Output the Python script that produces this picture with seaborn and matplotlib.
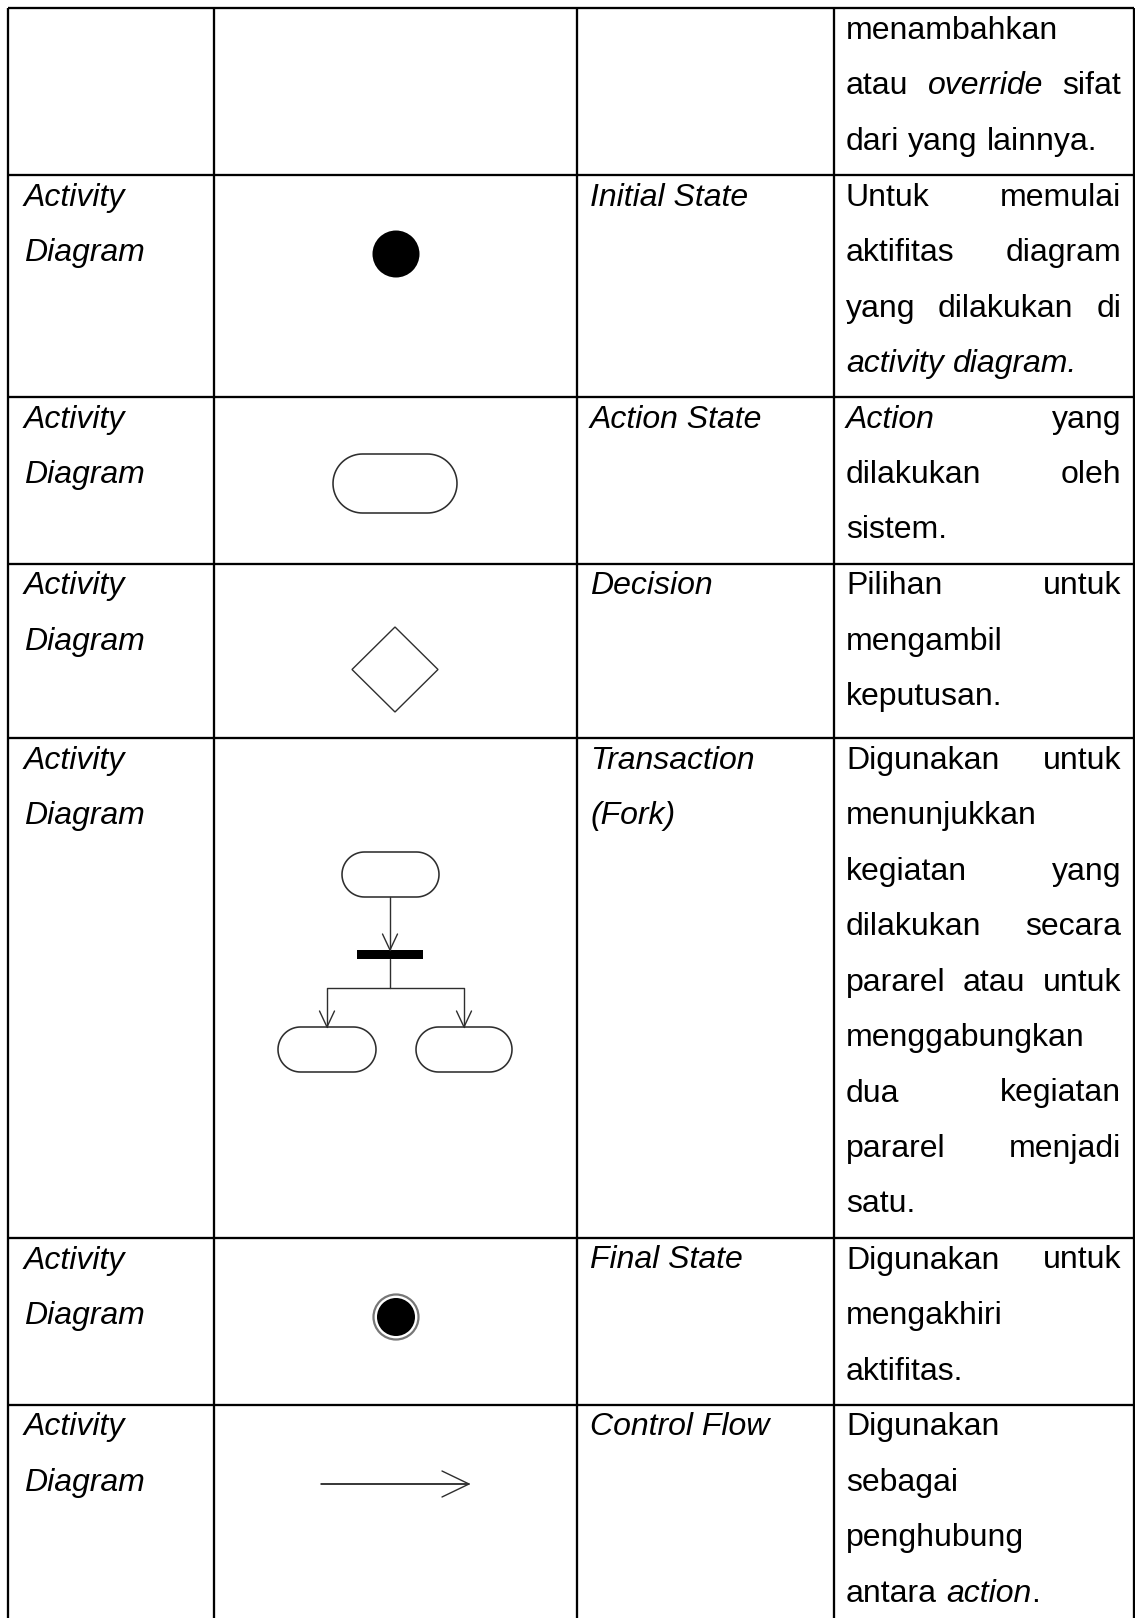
import matplotlib
matplotlib.use("Agg")
import numpy as np
import matplotlib.pyplot as plt
from matplotlib.patches import Circle, Polygon, Rectangle
import seaborn as sns

sns.set_theme(style="white")
plt.rcParams["font.family"] = ["Liberation Sans", "DejaVu Sans"]
plt.rcParams["text.color"] = "black"

# ---- table content ----
diagram_col = [[], ["Activity", "Diagram"], ["Activity", "Diagram"], ["Activity", "Diagram"],
               ["Activity", "Diagram"], ["Activity", "Diagram"], ["Activity", "Diagram"]]
symbol_kind = [None, "initial", "action", "decision", "fork", "final", "flow"]
symbol_names = [[], ["Initial State"], ["Action State"], ["Decision"],
                ["Transaction", "(Fork)"], ["Final State"], ["Control Flow"]]
# description lines, "*" toggles italic; True = justified line
descriptions = [
    [("menambahkan", False), ("atau *override* sifat", True), ("dari yang lainnya.", False)],
    [("Untuk memulai", True), ("aktifitas diagram", True), ("yang dilakukan di", True),
     ("*activity diagram.*", False)],
    [("*Action* yang", True), ("dilakukan oleh", True), ("sistem.", False)],
    [("Pilihan untuk", True), ("mengambil", False), ("keputusan.", False)],
    [("Digunakan untuk", True), ("menunjukkan", False), ("kegiatan yang", True),
     ("dilakukan secara", True), ("pararel atau untuk", True), ("menggabungkan", False),
     ("dua kegiatan", True), ("pararel menjadi", True), ("satu.", False)],
    [("Digunakan untuk", True), ("mengakhiri", False), ("aktifitas.", False)],
    [("Digunakan", False), ("sebagai", False), ("penghubung", False), ("antara *action*.", False)],
]

# ---- layout (pixels) ----
W, H = 1135, 1618
row_tops = [8, 175, 397, 563.5, 738, 1238, 1404.5]
col_x = [8, 213.7, 576.7, 833.7, 1134]
LINE = 55.5
BASE = 30.5
FS = 23

fig = plt.figure(figsize=(W / 100, H / 100), dpi=100)
ax = fig.add_axes([0, 0, 1, 1])
ax.set_xlim(0, W)
ax.set_ylim(H, 0)
ax.axis("off")
renderer = fig.canvas.get_renderer()

# grid
ax.hlines(row_tops, col_x[0], col_x[-1], color="black", lw=1.65)
ax.vlines(col_x, row_tops[0], H + 20, color="black", lw=1.65)


def parse(line):
    words, word, seg, ital = [], [], "", False
    for ch in line:
        if ch == "*":
            if seg:
                word.append((seg, ital))
            seg, ital = "", not ital
        elif ch == " ":
            if seg:
                word.append((seg, ital))
            if word:
                words.append(word)
            word, seg = [], ""
        else:
            seg += ch
    if seg:
        word.append((seg, ital))
    if word:
        words.append(word)
    return words


def text_w(s, ital):
    t = ax.text(0, 0, s, fontsize=FS, style="italic" if ital else "normal")
    w = t.get_window_extent(renderer).width
    t.remove()
    return w


SPACE = text_w("a a", False) - text_w("aa", False)


def put_word(x, y, word):
    for s, ital in word:
        ax.text(x, y, s, fontsize=FS, style="italic" if ital else "normal",
                va="baseline", ha="left", color="black")
        x += text_w(s, ital)
    return x


def word_w(word):
    return sum(text_w(s, i) for s, i in word)


left, right = 846, 1121
for r, lines in enumerate(descriptions):
    for i, (line, just) in enumerate(lines):
        y = row_tops[r] + BASE + LINE * i
        words = parse(line)
        if just and len(words) > 1:
            ws = [word_w(w) for w in words]
            gap = (right - left - sum(ws)) / (len(words) - 1)
            x = left
            for w, wd in zip(words, ws):
                put_word(x, y, w)
                x += wd + gap
        else:
            x = left
            for w in words:
                x = put_word(x, y, w) + SPACE

for r, lines in enumerate(diagram_col):
    for i, s in enumerate(lines):
        ax.text(24, row_tops[r] + BASE + LINE * i, s, fontsize=FS, style="italic", va="baseline")
for r, lines in enumerate(symbol_names):
    for i, s in enumerate(lines):
        ax.text(590, row_tops[r] + BASE + LINE * i, s, fontsize=FS, style="italic", va="baseline")

EC = "#2e2e2e"


def pill(x0, x1, y0, y1):
    rad = (y1 - y0) / 2
    cy = (y0 + y1) / 2
    a = np.linspace(-np.pi / 2, np.pi / 2, 40)
    right_end = np.c_[x1 - rad + rad * np.cos(a), cy + rad * np.sin(a)]
    left_end = np.c_[x0 + rad - rad * np.cos(a), cy - rad * np.sin(a)]
    ax.add_patch(Polygon(np.vstack([right_end, left_end]), closed=True,
                         fc="white", ec=EC, lw=1.15))


def vee(x, y, dx, dy):
    ax.plot([x - dx, x, x + dx], [y - dy, y, y - dy], color=EC, lw=1.0)


for r, kind in enumerate(symbol_kind):
    top = row_tops[r]
    if kind == "initial":
        ax.add_patch(Circle((396, top + 79), 23.5, fc="black", ec="none"))
    elif kind == "action":
        pill(333, 457, top + 57, top + 116)
    elif kind == "decision":
        cy = top + 106
        ax.add_patch(Polygon([(395, cy - 42.5), (438, cy), (395, cy + 42.5), (352, cy)],
                             closed=True, fc="white", ec=EC, lw=1.0))
    elif kind == "fork":
        cx = 390
        y0 = top + 114
        pill(342, 439, y0, y0 + 45)
        ax.plot([cx, cx], [y0 + 45, y0 + 98], color=EC, lw=1.0)
        vee(cx, y0 + 98, 7.5, 16)
        ax.add_patch(Rectangle((357, y0 + 98), 66, 9, fc="black", ec="none"))
        ax.plot([cx, cx], [y0 + 107, y0 + 136], color=EC, lw=1.0)
        ax.plot([327, 327, 464, 464], [y0 + 175, y0 + 136, y0 + 136, y0 + 175], color=EC, lw=1.0)
        vee(327, y0 + 175, 7.5, 16)
        vee(464, y0 + 175, 7.5, 16)
        pill(278, 376, y0 + 175, y0 + 220)
        pill(416, 512, y0 + 175, y0 + 220)
    elif kind == "final":
        ax.add_patch(Circle((396, top + 79), 22.5, fc="white", ec="#777777", lw=1.6))
        ax.add_patch(Circle((396, top + 79), 19, fc="black", ec="none"))
    elif kind == "flow":
        y = top + 79.5
        ax.plot([321, 469], [y, y], color="black", lw=1.1)
        ax.plot([442, 469, 442], [y - 13, y, y + 13], color=EC, lw=1.0)

fig.savefig("out.png", dpi=100, facecolor="white")
